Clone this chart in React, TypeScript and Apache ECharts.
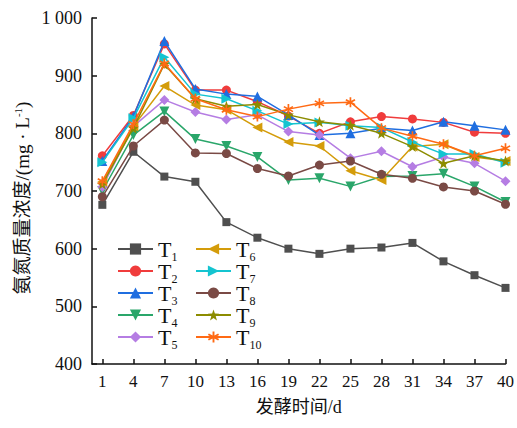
import React, { useEffect, useRef } from "react";
import * as echarts from "echarts";

// Fermentation days (x) and ammonia-nitrogen concentration (mg/L) per treatment
const days = [1, 4, 7, 10, 13, 16, 19, 22, 25, 28, 31, 34, 37, 40];
const yTicks = [400, 500, 600, 700, 800, 900, 1000];

const T1 = [676, 768, 725, 716, 646, 619, 600, 591, 600, 602, 610, 578, 554, 532];
const T2 = [761, 831, 955, 875, 875, 855, 830, 800, 820, 829, 825, 819, 802, 800];
const T3 = [752, 829, 960, 877, 868, 864, 832, 797, 800, 809, 805, 820, 813, 806];
const T4 = [700, 797, 838, 790, 778, 759, 719, 722, 708, 725, 726, 730, 708, 681];
const T5 = [707, 812, 858, 837, 824, 832, 803, 797, 757, 769, 742, 759, 748, 717];
const T6 = [716, 812, 882, 849, 841, 810, 785, 778, 735, 719, 777, 781, 759, 752];
const T7 = [750, 826, 932, 868, 860, 839, 816, 819, 813, 810, 785, 764, 764, 749];
const T8 = [690, 778, 823, 766, 765, 739, 726, 745, 752, 729, 722, 707, 700, 677];
const T9 = [712, 809, 920, 860, 847, 850, 832, 820, 814, 800, 777, 748, 761, 752];
const T10 = [717, 816, 921, 860, 841, 829, 842, 852, 854, 809, 795, 781, 761, 774];

const seriesNames = ["T1", "T2", "T3", "T4", "T5", "T6", "T7", "T8", "T9", "T10"];
const seriesValues = [T1, T2, T3, T4, T5, T6, T7, T8, T9, T10];
const colors = [
  "#4f4f4f", "#f03c3c", "#1f6ee0", "#2aa66a", "#b57de3",
  "#d49c0a", "#14c4d0", "#7a4a45", "#8c8c00", "#ff6a14",
];

const STAR =
  "path://M0,-10 L2.35,-3.24 L9.51,-3.09 L3.8,1.24 L5.88,8.09 L0,4 L-5.88,8.09 L-3.8,1.24 L-9.51,-3.09 L-2.35,-3.24 Z";
const ASTERISK =
  "path://M-0.8,-5 L0.8,-5 L0.8,5 L-0.8,5 Z " +
  "M-4.73,-1.81 L-3.93,-3.19 L4.73,1.81 L3.93,3.19 Z " +
  "M3.93,-3.19 L4.73,-1.81 L-3.93,3.19 L-4.73,1.81 Z";

const symbols: { symbol: string; rotate: number; size: number }[] = [
  { symbol: "rect", rotate: 0, size: 8 },
  { symbol: "circle", rotate: 0, size: 9 },
  { symbol: "triangle", rotate: 0, size: 10 },
  { symbol: "triangle", rotate: 180, size: 10 },
  { symbol: "diamond", rotate: 0, size: 10 },
  { symbol: "triangle", rotate: 90, size: 10 },
  { symbol: "triangle", rotate: -90, size: 10 },
  { symbol: "circle", rotate: 0, size: 9 },
  { symbol: STAR, rotate: 0, size: 11 },
  { symbol: ASTERISK, rotate: 0, size: 10 },
];

const SERIF = '"Liberation Serif", "Noto Sans CJK SC", serif';

// "T" with a lowered subscript number
const legendRich = {
  t: { fontFamily: SERIF, fontSize: 22, color: "#111", lineHeight: 18 },
  s: {
    fontFamily: SERIF,
    fontSize: 12,
    color: "#111",
    lineHeight: 18,
    padding: [16, 0, 0, 0],
  },
};

const legendFormatter = (name: string) => `{t|T}{s|${name.slice(1)}}`;

export default function App() {
  const ref = useRef<HTMLDivElement>(null);

  useEffect(() => {
    if (!ref.current) return;
    const chart = echarts.init(ref.current, undefined, { renderer: "svg" });

    const series = seriesNames.map((name, i) => ({
      name,
      type: "line",
      data: days.map((d, j) => [d, seriesValues[i][j]]),
      symbol: symbols[i].symbol,
      symbolRotate: symbols[i].rotate,
      symbolSize: symbols[i].size,
      lineStyle: { width: 1.5, color: colors[i] },
      itemStyle: { color: colors[i] },
      z: 2 + i,
    }));

    const legendBase = {
      orient: "vertical",
      itemWidth: 35,
      itemHeight: 14,
      itemGap: -6,
      padding: 0,
      formatter: legendFormatter,
      textStyle: { rich: legendRich },
    };

    chart.setOption({
      animation: false,
      backgroundColor: "#ffffff",
      color: colors,
      grid: { left: 92, right: 10, top: 18, bottom: 64, containLabel: false },
      legend: [
        { ...legendBase, left: 117, top: 235, data: seriesNames.slice(0, 5) },
        { ...legendBase, left: 195, top: 235, data: seriesNames.slice(5) },
      ],
      xAxis: {
        type: "value",
        min: 0,
        max: 40,
        name: "发酵时间/d",
        nameLocation: "middle",
        nameGap: 34,
        nameTextStyle: { fontFamily: SERIF, fontSize: 18, color: "#111" },
        axisLine: { lineStyle: { color: "#111", width: 1.5 } },
        axisTick: {
          inside: true,
          length: 5,
          customValues: days,
          lineStyle: { color: "#111", width: 1.5 },
        },
        axisLabel: {
          customValues: days,
          margin: 9,
          fontFamily: SERIF,
          fontSize: 17,
          color: "#111",
        },
        splitLine: { show: false },
      },
      yAxis: {
        type: "value",
        min: yTicks[0],
        max: yTicks[yTicks.length - 1],
        interval: 100,
        axisLine: { show: true, lineStyle: { color: "#111", width: 1.5 } },
        axisTick: {
          show: true,
          inside: true,
          length: 5,
          lineStyle: { color: "#111", width: 1.5 },
        },
        axisLabel: {
          margin: 10,
          fontFamily: SERIF,
          fontSize: 18,
          color: "#111",
          formatter: (v: number) => (v === 1000 ? "1 000" : String(v)),
        },
        splitLine: { show: false },
      },
      graphic: [
        {
          type: "text",
          x: 22,
          y: 198,
          rotation: Math.PI / 2,
          style: {
            text: "{a|氨氮质量浓度/(mg · L}{sup|-1}{a|)}",
            align: "center",
            verticalAlign: "middle",
            rich: {
              a: { fontFamily: SERIF, fontSize: 19, fill: "#111", lineHeight: 20 },
              sup: {
                fontFamily: SERIF,
                fontSize: 11,
                fill: "#111",
                lineHeight: 20,
                padding: [0, 0, 8, 0],
              },
            },
          },
        },
      ],
      series,
    });

    return () => chart.dispose();
  }, []);

  return (
    <div
      ref={ref}
      style={{ position: "fixed", left: 0, top: 0, width: 517, height: 428 }}
    />
  );
}
